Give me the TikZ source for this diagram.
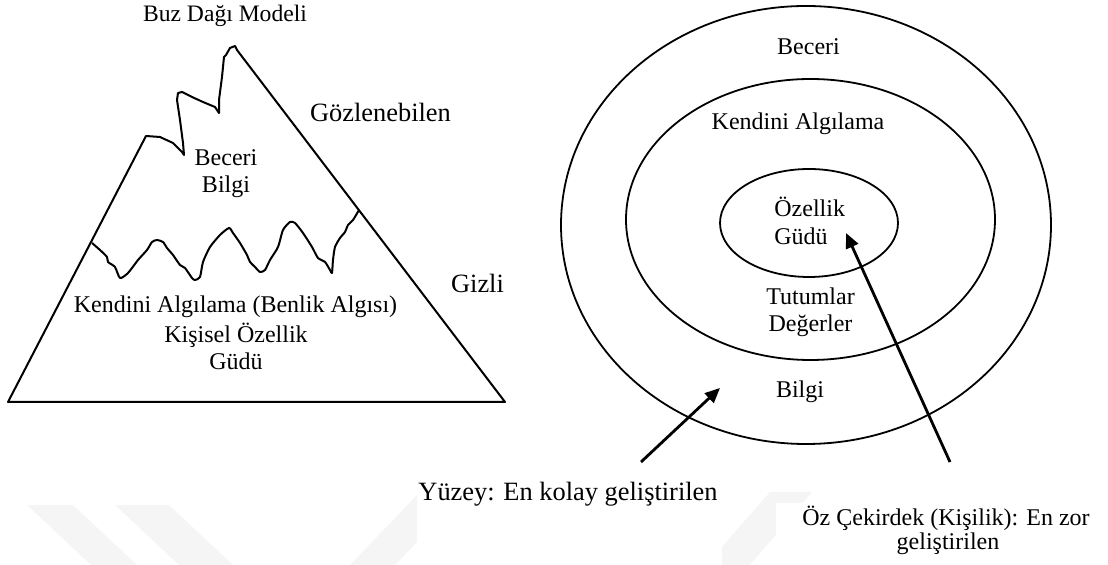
\documentclass[tikz,border=0pt]{standalone}
\usepackage{fontspec}
\setmainfont{Liberation Serif}
\usetikzlibrary{arrows.meta}
\tikzset{
  lbl/.style={inner sep=0pt, anchor=base, font=\fontsize{12}{14}\selectfont},
  lblbig/.style={inner sep=0pt, anchor=base, font=\fontsize{13.2}{15}\selectfont},
  lblleft/.style={inner sep=0pt, anchor=base west, font=\fontsize{12}{14}\selectfont},
  outline/.style={line width=1pt, line join=round},
  ring/.style={line width=0.9pt},
  pointer/.style={line width=1.4pt, -{Triangle[length=7.5pt, width=6.5pt]}},
  wm/.style={fill=black!4},
  cover/.style={fill=white}
}
\begin{document}
\begin{tikzpicture}[x=0.5pt,y=-0.5pt]
\useasboundingbox (0,0) rectangle (1108,565);
% faint watermark
\fill[wm] (27,505) -- (73,505) -- (137,565) -- (91,565) -- cycle;
\fill[wm] (115,505) -- (169,505) -- (233,565) -- (179,565) -- cycle;
\fill[wm] (420,492) -- (465,492) -- (395,565) -- (350,565) -- cycle;
\fill[wm] (770,492) -- (812,492) -- (750,565) -- (706,565) -- cycle;
\fill[cover] (417,480) rectangle (722,565);
\fill[cover] (776,503) rectangle (1095,565);

% iceberg
\draw[outline] (8,402) -- (146,136)
  -- (160,137) -- (173,143) -- (182,152) -- (184,155) -- (183,143)
  -- (180,120) -- (177,100) -- (178,93) -- (182,92) -- (192,97)
  -- (203,102) -- (215,107) -- (219,113) -- (219,100) -- (222,77)
  -- (224,57) -- (226,55) -- (230,48) -- (235,46) -- (237,50)
  -- (505,402) -- cycle;
\draw[outline] plot[smooth, tension=0.4] coordinates {
  (92,243) (100,250) (107,257) (108,262) (115,267) (120,278) (128,273)
  (138,260) (147,250) (152,242) (157,240) (163,242) (167,248) (173,255)
  (180,265) (185,268) (192,278) (195,280) (200,277) (203,262) (210,247)
  (220,235) (229,228) (233,233) (240,243) (247,255) (250,262) (255,267)
  (260,272) (265,270) (270,260) (278,247) (283,230) (290,222) (295,223)
  (303,233) (312,247) (318,258) (325,262) (330,270) (332,273) (333,260)
  (335,247) (340,238) (345,232) (348,225) (353,220) (359,210)};

\node[lbl, font=\fontsize{11.8}{14}\selectfont] (title) at (225,22) {Buz Dağı Modeli};
\node[lblbig] (gozl) at (380.5,122) {Gözlenebilen};
\node[lblbig] (gizli) at (477.5,293) {Gizli};
\node[lbl] (lbeceri) at (226,166) {Beceri};
\node[lbl] (lbilgi) at (226,193) {Bilgi};
\node[lbl] (lkendini) at (235.5,313) {Kendini Algılama (Benlik Algısı)};
\node[lbl] (lkisisel) at (236,343) {Kişisel Özellik};
\node[lbl] (lgudu) at (236,370) {Güdü};

% onion
\draw[ring] (806,225) ellipse [x radius=122.5pt, y radius=109.5pt];
\draw[ring] (810.5,219.5) ellipse [x radius=92.25pt, y radius=70.25pt];
\draw[ring] (809,223) ellipse [x radius=44.5pt, y radius=27pt];

\node[lbl] (rbeceri) at (808.5,55) {Beceri};
\node[lbl] (rkendini) at (798,130) {Kendini Algılama};
\node[lblleft] (rozellik) at (774,217) {Özellik};
\node[lblleft] (rgudu) at (774,245) {Güdü};
\node[lbl] (rtutum) at (810.5,305) {Tutumlar};
\node[lbl] (rdeger) at (810.5,332) {Değerler};
\node[lbl] (rbilgi) at (800,398) {Bilgi};

\node[lblbig] (yuzey) at (568,501) {Yüzey: En kolay geliştirilen};
\node[lbl] (oz1) at (946,526) {Öz Çekirdek (Kişilik): En zor};
\node[lbl] (oz2) at (948,550) {geliştirilen};

\coordinate (t1) at (641,462);
\coordinate (h1) at (720,388);
\coordinate (t2) at (950,462);
\coordinate (h2) at (846,233);
\draw[pointer] (t1) -- (h1);
\draw[pointer] (t2) -- (h2);
\end{tikzpicture}
\end{document}
